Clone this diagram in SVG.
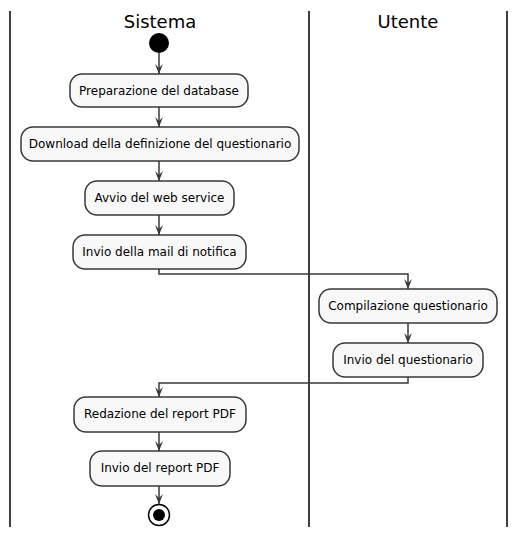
<svg xmlns="http://www.w3.org/2000/svg" width="517" height="536" viewBox="0 0 517 536">
<defs>
<style>
.lane{stroke:#000;stroke-width:1.5;fill:none}
.title{font-family:"DejaVu Sans",sans-serif;font-size:18px;fill:#000;text-anchor:middle}
.box{fill:#F8F8F8;stroke:#383838;stroke-width:1.5}
.lbl{font-family:"DejaVu Sans",sans-serif;font-size:12px;fill:#000;text-anchor:middle}
.edge{stroke:#383838;stroke-width:1.5;fill:none}
</style>
<marker id="ah" viewBox="0 0 10 10" refX="10" refY="5" markerWidth="10" markerHeight="10" markerUnits="userSpaceOnUse" orient="auto">
<path d="M0,1 L10,5 L0,9 L4,5 Z" fill="#383838"/>
</marker>
</defs>
<rect width="517" height="536" fill="#fff"/>
<g id="lanes">
<line class="lane" x1="10" y1="11" x2="10" y2="527"/>
<line class="lane" x1="309" y1="11" x2="309" y2="527"/>
<line class="lane" x1="507" y1="11" x2="507" y2="527"/>
<text class="title" x="160" y="28">Sistema</text>
<text class="title" x="408" y="28">Utente</text>
</g>
<g id="start"><circle cx="159" cy="43" r="10" fill="#000"/></g>
<g id="n1"><rect class="box" x="70" y="74" width="178" height="33" rx="12"/><text class="lbl" x="159" y="95">Preparazione del database</text></g>
<g id="n2"><rect class="box" x="21" y="127" width="278" height="34" rx="12"/><text class="lbl" x="160" y="148">Download della definizione del questionario</text></g>
<g id="n3"><rect class="box" x="85" y="181" width="149" height="34" rx="12"/><text class="lbl" x="159.5" y="202">Avvio del web service</text></g>
<g id="n4"><rect class="box" x="73" y="235" width="173" height="34" rx="12"/><text class="lbl" x="159.5" y="256">Invio della mail di notifica</text></g>
<g id="n5"><rect class="box" x="319" y="289" width="178" height="34" rx="12"/><text class="lbl" x="408" y="310">Compilazione questionario</text></g>
<g id="n6"><rect class="box" x="333" y="343" width="150" height="34" rx="12"/><text class="lbl" x="408" y="364">Invio del questionario</text></g>
<g id="n7"><rect class="box" x="74" y="397" width="172" height="35" rx="12"/><text class="lbl" x="160" y="418">Redazione del report PDF</text></g>
<g id="n8"><rect class="box" x="90" y="451" width="140" height="35" rx="12"/><text class="lbl" x="160" y="472">Invio del report PDF</text></g>
<g id="end"><circle cx="159" cy="515" r="10.5" fill="#fff" stroke="#000" stroke-width="1.5"/><circle cx="159" cy="515" r="6" fill="#000"/></g>
<g id="connectors">
<path class="edge" d="M159,53 V74" marker-end="url(#ah)"/>
<path class="edge" d="M159,107 V127" marker-end="url(#ah)"/>
<path class="edge" d="M159,161 V181" marker-end="url(#ah)"/>
<path class="edge" d="M159,215 V235" marker-end="url(#ah)"/>
<path class="edge" d="M159,269 V274 H408 V289" marker-end="url(#ah)"/>
<path class="edge" d="M408,323 V343" marker-end="url(#ah)"/>
<path class="edge" d="M408,377 V383 H159 V397" marker-end="url(#ah)"/>
<path class="edge" d="M159,432 V451" marker-end="url(#ah)"/>
<path class="edge" d="M159,486 V504" marker-end="url(#ah)"/>
</g>
</svg>
